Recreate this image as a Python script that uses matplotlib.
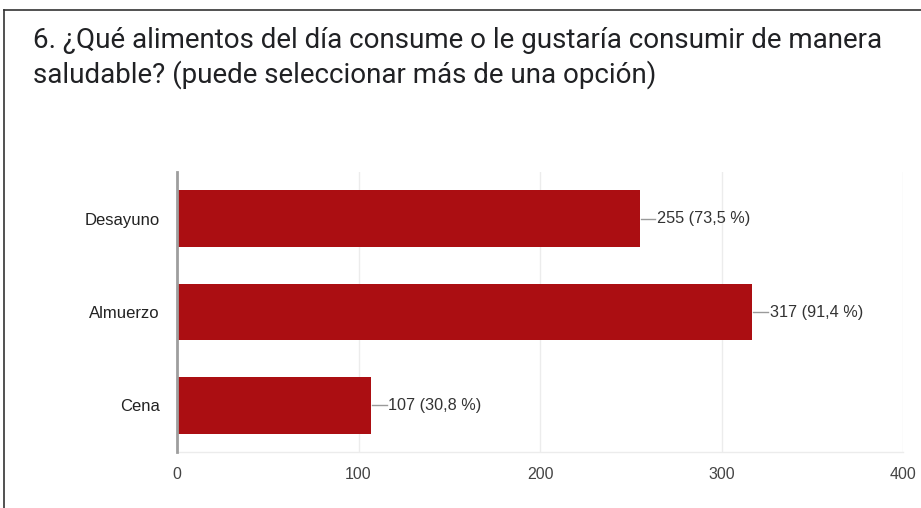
import matplotlib
matplotlib.use("Agg")
import matplotlib.pyplot as plt
from matplotlib.lines import Line2D

# ---------------- Data ---------------- #
categories = ["Desayuno", "Almuerzo", "Cena"]
counts = [255, 317, 107]
percents = ["73,5", "91,4", "30,8"]
xticks = [0, 100, 200, 300, 400]

title_line1 = "6. ¿Qué alimentos del día consume o le gustaría consumir de manera"
title_line2 = "saludable? (puede seleccionar más de una opción)"

BAR_COLOR = "#ab0e12"
W, H = 921, 508

fig = plt.figure(figsize=(W / 100, H / 100), dpi=100, facecolor="white")
ax = fig.add_axes([177 / W, 1 - 452 / H, (903 - 177) / W, (452 - 172) / H])

# ---------------- Bars ---------------- #
ypos = list(range(len(categories)))
ax.barh(ypos, counts, height=0.61, color=BAR_COLOR, zorder=3)
ax.set_ylim(len(categories) - 0.5, -0.5)
ax.set_xlim(0, 400)

# value labels with small leader line
for y, v, p in zip(ypos, counts, percents):
    ax.plot([v + 0.5, v + 8.5], [y, y], color="#9a9a9a", lw=1, zorder=4)
    ax.text(v + 9.5, y, f"{v} ({p} %)", va="center", ha="left",
            fontsize=11.7, color="#333333", family="Liberation Sans")

# ---------------- Axes styling ---------------- #
ax.set_xticks(xticks)
ax.set_xticklabels([str(t) for t in xticks], fontsize=11.5, color="#444444",
                   family="Liberation Sans")
ax.set_yticks(ypos)
ax.set_yticklabels(categories, fontsize=12, color="#222222", family="Liberation Sans")
ax.tick_params(axis="both", length=0)
ax.tick_params(axis="x", pad=11)
ax.tick_params(axis="y", pad=12.5)

ax.grid(axis="x", color="#ececec", lw=1, zorder=0)
for s in ["top", "right"]:
    ax.spines[s].set_visible(False)
ax.spines["bottom"].set_color("#ececec")
ax.spines["bottom"].set_linewidth(1)
ax.spines["left"].set_color("#9e9e9e")
ax.spines["left"].set_linewidth(2)
ax.spines["left"].set_zorder(5)

# ---------------- Title ---------------- #
fig.text(33 / W, 1 - 48 / H, title_line1, fontsize=20, family="Roboto",
         color="#202124", va="baseline", ha="left")
fig.text(33 / W, 1 - 83 / H, title_line2, fontsize=20, family="Roboto",
         color="#202124", va="baseline", ha="left")

# ---------------- Frame ---------------- #
fig.add_artist(Line2D([4 / W, 4 / W], [0, 1 - 10 / H], transform=fig.transFigure,
                      color="#333333", lw=1.2))
fig.add_artist(Line2D([4 / W, 1], [1 - 10 / H, 1 - 10 / H], transform=fig.transFigure,
                      color="#333333", lw=1.2))

fig.savefig("out.png", dpi=100, facecolor="white")
